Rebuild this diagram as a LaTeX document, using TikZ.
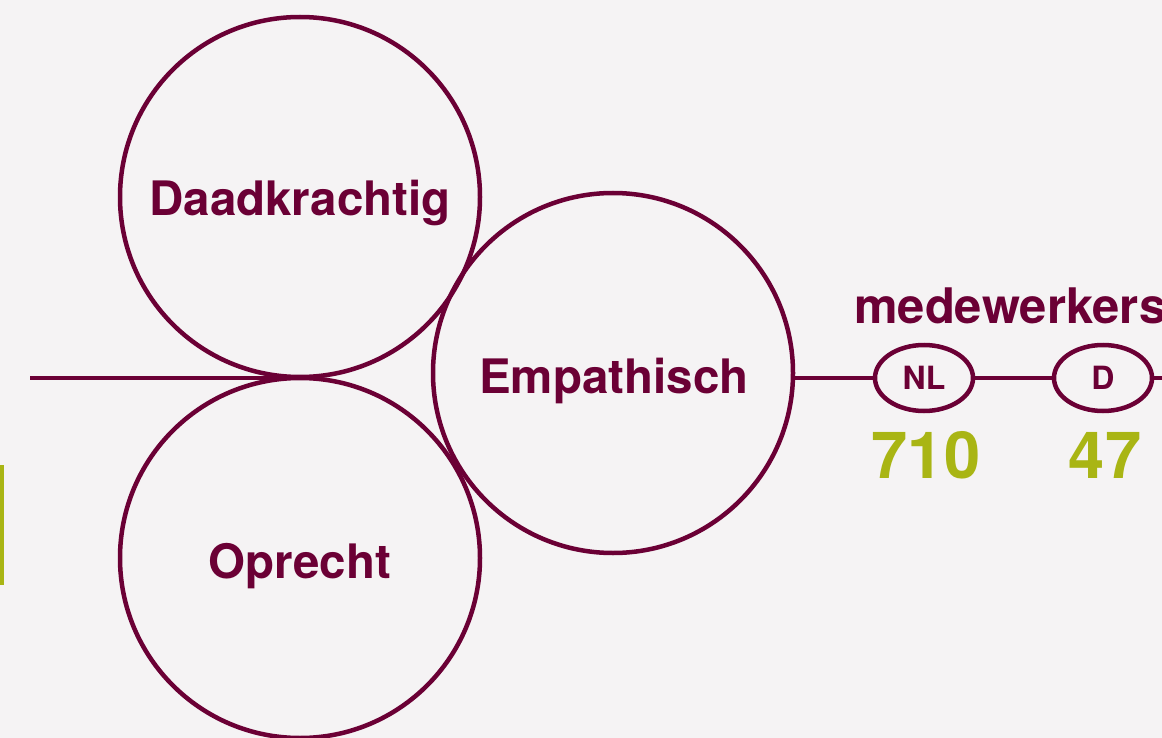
\documentclass[tikz,border=0pt]{standalone}
\usepackage{fontspec}
\setmainfont{TeX Gyre Heros}
\usetikzlibrary{shapes.geometric}
\definecolor{maroon}{HTML}{6B0035}
\definecolor{olive}{HTML}{A9B514}
\definecolor{bg}{HTML}{F5F3F4}
\tikzset{
  bigcircle/.style={circle,draw=maroon,line width=4.5pt,minimum size=360pt,inner sep=0pt},
  circlabel/.style={anchor=base,text=maroon,font=\bfseries\fontsize{47.5}{47.5}\selectfont},
  country/.style={ellipse,draw=maroon,line width=4.5pt,minimum width=98pt,minimum height=66pt,inner sep=0pt,text=maroon,font=\bfseries\fontsize{32}{32}\selectfont},
  count/.style={anchor=base,text=olive,font=\bfseries\fontsize{65}{65}\selectfont},
  conn/.style={draw=maroon,line width=4.5pt}
}
\begin{document}
\begin{tikzpicture}[x=1pt,y=-1pt]
\fill[bg] (0,0) rectangle (1162,738);
\useasboundingbox (0,0) rectangle (1162,738);
\fill[olive] (0,465) rectangle (4,585);
\node[bigcircle] (daad) at (300,197) {};
\node[bigcircle] (opr) at (300,558) {};
\node[bigcircle] (emp) at (613,373) {};
\node[circlabel] (daadt) at (300,216) {Daadkrachtig};
\node[circlabel] (oprt) at (300,578) {Oprecht};
\node[circlabel] (empt) at (614,393) {Empathisch};
\coordinate (lstart) at (30,378);
\coordinate (ltouch) at (299,378);
\coordinate (rend) at (1170,378);
\draw[conn] (lstart) -- (ltouch);
\node[country] (nl) at (924,378) {NL};
\node[country] (d) at (1103,378) {D};
\draw[conn] (emp.east |- nl.west) -- (nl.west);
\draw[conn] (nl.east) -- (d.west);
\draw[conn] (d.east) -- (rend);
\node[anchor=base west,text=maroon,font=\bfseries\fontsize{49}{49}\selectfont,inner sep=0pt] (mw) at (854,323) {medewerkers};
\node[count] (n710) at (926,478) {710};
\node[count] (n47) at (1105,478) {47};
\end{tikzpicture}
\end{document}
